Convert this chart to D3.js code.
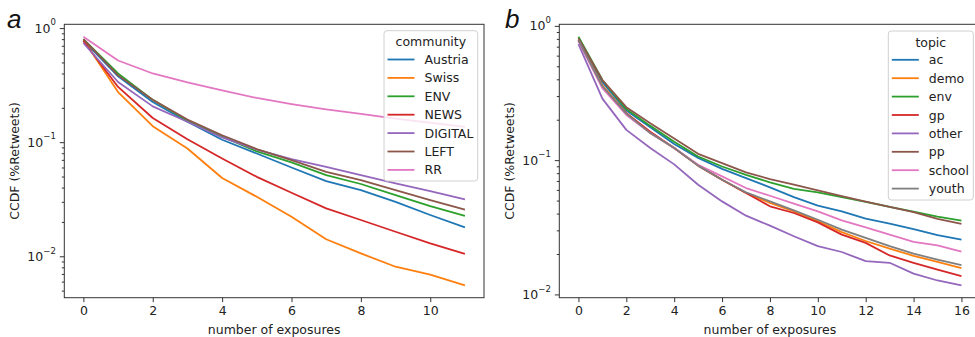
<!DOCTYPE html>
<html>
<head>
<meta charset="utf-8">
<script src="https://cdn.jsdelivr.net/npm/d3@7"></script>
<style>
body { margin: 0; background: white; }
svg { display: block; font-family: "DejaVu Sans", sans-serif; }
</style>
</head>
<body>
<script>
// panel a: CCDF per community
const exposuresA = [0, 1, 2, 3, 4, 5, 6, 7, 8, 9, 10, 11]
const communities = ["Austria", "Swiss", "ENV", "NEWS", "DIGITAL", "LEFT", "RR"]
const austria = [0.78, 0.378, 0.225, 0.151, 0.105, 0.0796, 0.060, 0.0455, 0.038, 0.030, 0.023, 0.0179]
const swiss   = [0.79, 0.275, 0.138, 0.088, 0.0485, 0.0332, 0.0222, 0.0141, 0.0106, 0.0081, 0.0069, 0.00557]
const envA    = [0.80, 0.40, 0.235, 0.155, 0.112, 0.083, 0.0665, 0.0514, 0.043, 0.0344, 0.0275, 0.0226]
const news    = [0.77, 0.305, 0.163, 0.106, 0.072, 0.0497, 0.036, 0.0263, 0.0208, 0.0164, 0.013, 0.0105]
const digital = [0.74, 0.337, 0.206, 0.151, 0.11, 0.086, 0.071, 0.0608, 0.0514, 0.0435, 0.0373, 0.0315]
const left    = [0.80, 0.385, 0.235, 0.158, 0.115, 0.087, 0.0696, 0.055, 0.0465, 0.038, 0.0311, 0.0256]
const rr      = [0.84, 0.52, 0.40, 0.335, 0.285, 0.244, 0.216, 0.194, 0.177, 0.161, 0.148, 0.136]

// panel b: CCDF per topic
const exposuresB = [0, 1, 2, 3, 4, 5, 6, 7, 8, 9, 10, 11, 12, 13, 14, 15, 16]
const topics = ["ac", "demo", "env", "gp", "other", "pp", "school", "youth"]
const ac     = [0.79, 0.38, 0.234, 0.176, 0.132, 0.104, 0.086, 0.0735, 0.0627, 0.0531, 0.0458, 0.0416, 0.0367, 0.0337, 0.0307, 0.0277, 0.0256]
const demo   = [0.78, 0.36, 0.224, 0.159, 0.123, 0.091, 0.0714, 0.057, 0.048, 0.0416, 0.0352, 0.0291, 0.025, 0.0219, 0.0194, 0.0175, 0.0157]
const envB   = [0.83, 0.395, 0.24, 0.18, 0.137, 0.1065, 0.0897, 0.0778, 0.0683, 0.0612, 0.0575, 0.0531, 0.0488, 0.0448, 0.0413, 0.038, 0.0355]
const gp     = [0.78, 0.352, 0.224, 0.163, 0.123, 0.091, 0.0714, 0.057, 0.0453, 0.0404, 0.0344, 0.0279, 0.0242, 0.0195, 0.0172, 0.0153, 0.0137]
const other  = [0.73, 0.287, 0.168, 0.123, 0.093, 0.0656, 0.0493, 0.0386, 0.0325, 0.0271, 0.0229, 0.0207, 0.0177, 0.0172, 0.0143, 0.0127, 0.0117]
const pp     = [0.81, 0.395, 0.248, 0.188, 0.145, 0.1115, 0.095, 0.081, 0.0723, 0.0656, 0.0596, 0.054, 0.049, 0.0448, 0.041, 0.0366, 0.0335]
const school = [0.77, 0.343, 0.217, 0.159, 0.123, 0.0923, 0.0757, 0.062, 0.0543, 0.0474, 0.0416, 0.0356, 0.0316, 0.0279, 0.0246, 0.0232, 0.0208]
const youth  = [0.78, 0.355, 0.222, 0.159, 0.123, 0.091, 0.0714, 0.0575, 0.0493, 0.0423, 0.036, 0.0304, 0.0264, 0.0229, 0.0201, 0.0182, 0.0165]

const xTicksA = [0, 2, 4, 6, 8, 10]
const xTicksB = [0, 2, 4, 6, 8, 10, 12, 14, 16]
const yTicks = [1, 0.1, 0.01]
const yTickExp = ["0", "\u22121", "\u22122"]

const palette = ["#1f77b4", "#ff7f0e", "#2ca02c", "#d62728", "#9467bd", "#8c564b", "#e377c2", "#7f7f7f"]

function main(){
    const width = 975
    const height = 337

    let svg = d3.select("body")
        .append('svg')
        .attr('width', width)
        .attr('height', height)
        .attr('style', "background-color: white")

    drawPanel(svg, {
        label: 'a',
        labelX: 7, labelY: 28,
        x0: 64.3, x1: 484, y0: 24.3, y1: 297.7,
        yLabelX: 15,
        xs: exposuresA,
        names: communities,
        series: [austria, swiss, envA, news, digital, left, rr],
        xTicks: xTicksA,
        legendTitle: 'community',
        legendBox: [384, 30.7, 93.7, 150.3]
    })

    drawPanel(svg, {
        label: 'b',
        labelX: 505, labelY: 28,
        x0: 559.3, x1: 980.6, y0: 24.3, y1: 297.7,
        yLabelX: 510,
        xs: exposuresB,
        names: topics,
        series: [ac, demo, envB, gp, other, pp, school, youth],
        xTicks: xTicksB,
        legendTitle: 'topic',
        legendBox: [888.3, 31, 85, 169]
    })
}

function drawPanel(svg, p){
    const g = svg.append('g')

    // matplotlib style 5% margins
    let xExt = d3.extent(p.xs)
    let xPad = (xExt[1] - xExt[0]) * 0.05
    let xScale = d3.scaleLinear()
        .domain([xExt[0] - xPad, xExt[1] + xPad])
        .range([p.x0, p.x1])

    let allY = p.series.flat()
    let lo = Math.log10(d3.min(allY)), hi = Math.log10(d3.max(allY))
    let yPad = (hi - lo) * 0.05
    let yScale = d3.scaleLog()
        .domain([Math.pow(10, lo - yPad), Math.pow(10, hi + yPad)])
        .range([p.y1, p.y0])

    let line = d3.line()
        .x(d => xScale(d[0]))
        .y(d => yScale(d[1]))

    p.series.forEach(function(s, i){
        g.append('path')
            .datum(s.map((v, j) => [p.xs[j], v]))
            .attr('fill', 'none')
            .attr('stroke', palette[i])
            .attr('stroke-width', 1.8)
            .attr('stroke-linejoin', 'round')
            .attr('d', line)
    })

    // frame
    g.append('rect')
        .attr('x', p.x0)
        .attr('y', p.y0)
        .attr('width', p.x1 - p.x0)
        .attr('height', p.y1 - p.y0)
        .attr('fill', 'none')
        .attr('stroke', '#333')
        .attr('stroke-width', 1)

    // x axis
    let xAxis = g.append('g')
        .attr('transform', `translate(0,${p.y1})`)
        .call(d3.axisBottom(xScale).tickValues(p.xTicks).tickSize(4.5).tickPadding(4).tickFormat(d3.format('d')))
    xAxis.select('.domain').remove()
    xAxis.selectAll('.tick line').attr('stroke', '#333')
    xAxis.selectAll('.tick text')
        .attr('font-size', '12.5px')
        .attr('font-family', '"DejaVu Sans", sans-serif')
        .attr('fill', '#222')

    // y axis, minor ticks
    let minor = yScale.ticks().filter(v => yTicks.indexOf(v) < 0)
    let yMinor = g.append('g')
        .attr('transform', `translate(${p.x0},0)`)
        .call(d3.axisLeft(yScale).tickValues(minor).tickSize(2.5).tickFormat(''))
    yMinor.select('.domain').remove()
    yMinor.selectAll('.tick line').attr('stroke', '#333')

    // y axis, major ticks with 10^n labels
    let yAxis = g.append('g')
        .attr('transform', `translate(${p.x0},0)`)
        .call(d3.axisLeft(yScale).tickValues(yTicks).tickSize(4.5).tickPadding(4).tickFormat(''))
    yAxis.select('.domain').remove()
    yAxis.selectAll('.tick line').attr('stroke', '#333')
    yAxis.selectAll('.tick text')
        .attr('font-size', '12.5px')
        .attr('font-family', '"DejaVu Sans", sans-serif')
        .attr('fill', '#222')
        .each(function(d, i){
            let t = d3.select(this)
            t.append('tspan').text('10')
            t.append('tspan')
                .attr('font-size', '8.5px')
                .attr('dy', '-0.85em')
                .text(yTickExp[i])
        })

    // axis titles
    g.append('text')
        .attr('x', (p.x0 + p.x1) / 2)
        .attr('y', 333.5)
        .attr('text-anchor', 'middle')
        .attr('font-size', '12.5px')
        .attr('fill', '#222')
        .text('number of exposures')
    g.append('text')
        .attr('transform', `translate(${p.yLabelX},${161}) rotate(-90)`)
        .attr('text-anchor', 'middle')
        .attr('dy', '0.35em')
        .attr('font-size', '12.5px')
        .attr('fill', '#222')
        .text('CCDF (%Retweets)')

    // panel letter
    g.append('text')
        .attr('x', p.labelX)
        .attr('y', p.labelY)
        .attr('font-family', '"Liberation Sans", Arial, sans-serif')
        .attr('font-style', 'italic')
        .attr('font-size', '26px')
        .attr('fill', '#111')
        .text(p.label)

    // legend
    let b = p.legendBox
    let leg = g.append('g')
    leg.append('rect')
        .attr('x', b[0])
        .attr('y', b[1])
        .attr('width', b[2])
        .attr('height', b[3])
        .attr('rx', 3)
        .attr('fill', 'white')
        .attr('fill-opacity', 0.8)
        .attr('stroke', '#d0d0d0')
    leg.append('text')
        .attr('x', b[0] + b[2] / 2)
        .attr('y', b[1] + 15.5)
        .attr('text-anchor', 'middle')
        .attr('font-size', '12.5px')
        .attr('fill', '#222')
        .text(p.legendTitle)
    p.names.forEach(function(n, i){
        let yy = b[1] + 28.8 + i * 18.4
        leg.append('line')
            .attr('x1', b[0] + 3.5)
            .attr('x2', b[0] + 30.5)
            .attr('y1', yy)
            .attr('y2', yy)
            .attr('stroke', palette[i])
            .attr('stroke-width', 1.8)
        leg.append('text')
            .attr('x', b[0] + 40.5)
            .attr('y', yy)
            .attr('dy', '0.36em')
            .attr('font-size', '12.5px')
            .attr('fill', '#222')
            .text(n)
    })
}

main()
</script>
</body>
</html>
